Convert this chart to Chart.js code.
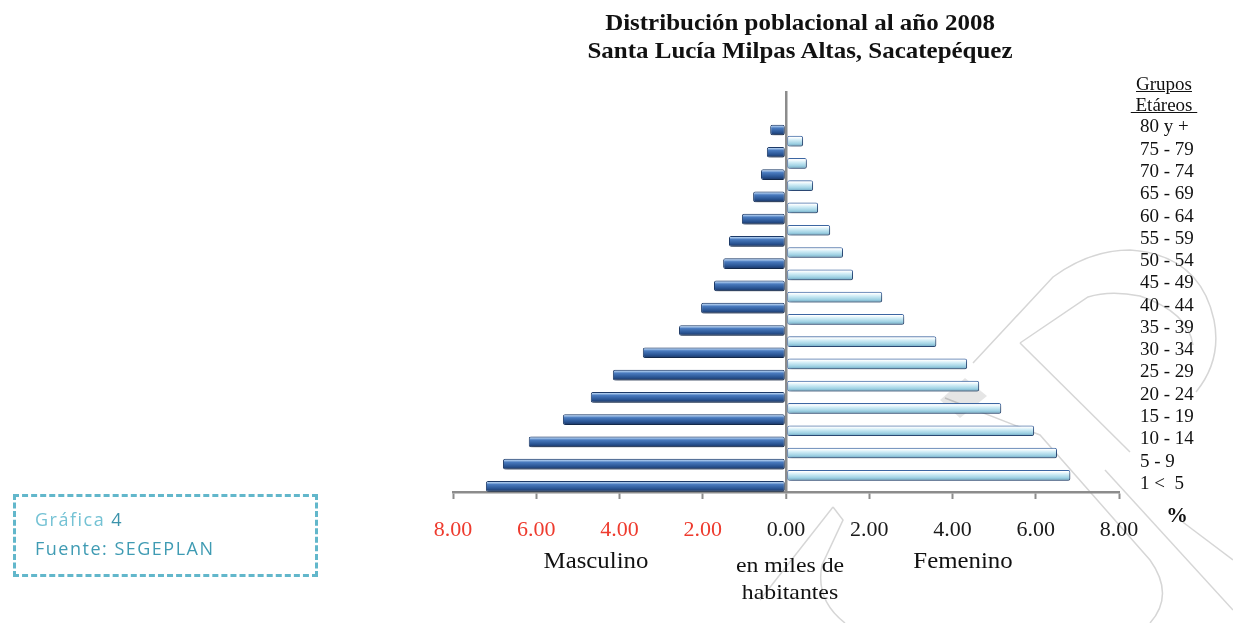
<!DOCTYPE html>
<html>
<head>
<meta charset="utf-8">
<script src="https://cdn.jsdelivr.net/npm/chart.js@4.4.0/dist/chart.umd.min.js"></script>
<style>
  body { margin: 0; background: #fff; }
  #page { position: relative; width: 1233px; height: 623px; overflow: hidden; }
  #wm { position: absolute; left: 0; top: 0; z-index: 0; }
  #wrap { position: absolute; left: 0; top: 0; width: 1233px; height: 623px; z-index: 1; }
  .t { position: absolute; font-family: "Liberation Serif", "Times New Roman", serif; color: #111; white-space: nowrap; z-index: 2; }
  .c { transform: translate(-50%, -50%) scaleX(1.08); }
  #titulo { left: 800px; top: 8px; transform: translateX(-50%) scaleX(1.04); text-align: center; font-weight: bold; font-size: 24px; line-height: 28px; }
  #grupos { left: 1164px; top: 73px; transform: translateX(-50%); text-align: center; font-size: 19px; line-height: 21px; }
  #grupos span { text-decoration: underline; }
  #caja { position: absolute; left: 13px; top: 494px; width: 299px; height: 77px; border: 3px dashed #62b7cb; z-index: 2;
          font-family: "Open Sans", sans-serif; font-size: 18px; letter-spacing: 1.5px; }
</style>
</head>
<body>
<div id="page">
  <svg id="wm" width="1233" height="623" fill="none" stroke="#d6d6d6" stroke-width="1.5">
    <path d="M973 363 L1053 277 Q1090 250 1130 250 Q1200 255 1214 320 Q1222 360 1196 392"/>
    <path d="M1020 343 L1088 297 Q1110 290 1140 296 Q1188 312 1193 345"/>
    <path d="M1020 343 L1130 452"/>
    <path d="M945 398 L1040 435 L1150 560 Q1175 595 1150 623"/>
    <path d="M1105 470 L1233 610"/>
    <path d="M1180 520 L1233 560"/>
    <path d="M833 507 L843 520 L822 565 Q815 600 845 623"/>
    <path d="M833 507 L760 600"/>
    <polygon points="940,400 965,378 987,396 960,418" fill="rgba(0,0,0,0.10)" stroke="none"/>
  </svg>
  <div id="wrap"><canvas id="graphCanvas"></canvas></div>

  <div id="titulo" class="t">Distribución poblacional al año 2008<br>Santa Lucía Milpas Altas, Sacatepéquez</div>
  <div id="grupos" class="t"><span>Grupos</span><br><span>&nbsp;Etáreos&nbsp;</span></div>
  <div class="t c" style="left:1177px; top:515px; font-weight:bold; font-size:20px;">%</div>
  <div class="t c" style="left:596px; top:561px; font-size:23px;">Masculino</div>
  <div class="t c" style="left:963px; top:561px; font-size:23px;">Femenino</div>
  <div class="t c" style="left:790px; top:565px; font-size:22px;">en miles de</div>
  <div class="t c" style="left:790px; top:592px; font-size:22px;">habitantes</div>

  <div id="caja">
    <div style="position:absolute; left:19px; top:10px; color:#74c2d4;">Gráfica <span style="color:#3b93ab;">4</span></div>
    <div style="position:absolute; left:19px; top:39px; color:#3f9bb3;">Fuente: SEGEPLAN</div>
  </div>
</div>

<script>
// grupos etareos (fila superior vacia, como en el original)
var ageGroups = ['', '80 y +', '75 - 79', '70 - 74', '65 - 69', '60 - 64', '55 - 59', '50 - 54', '45 - 49',
    '40 - 44', '35 - 39', '30 - 34', '25 - 29', '20 - 24', '15 - 19', '10 - 14', '5 - 9', '1 <  5'];
var masculino = [null, 0.38, 0.46, 0.60, 0.79, 1.06, 1.37, 1.51, 1.73, 2.04, 2.57, 3.44, 4.16, 4.69, 5.36, 6.18, 6.80, 7.21];
var femenino = [null, null, 0.41, 0.50, 0.65, 0.77, 1.06, 1.37, 1.61, 2.31, 2.84, 3.61, 4.35, 4.64, 5.17, 5.96, 6.51, 6.83];

var BAR_PCT = 0.96;
var CAT_PCT = 1.0;

// gradiente vertical por barra (efecto cilindro)
function barGradient(ctx, stops, fallback) {
    var chart = ctx.chart;
    var ys = chart.scales.y;
    if (ctx.type !== 'data' || !ys || !chart.chartArea) return fallback;
    var row = ys.getPixelForValue(1) - ys.getPixelForValue(0);
    if (!isFinite(row) || row <= 0) return fallback;
    var center = ys.getPixelForValue(ctx.dataIndex) + (ctx.datasetIndex === 0 ? -1 : 1) * row * CAT_PCT / 4;
    var h = row * CAT_PCT / 2 * BAR_PCT / 2;
    var g = chart.ctx.createLinearGradient(0, center - h, 0, center + h);
    stops.forEach(function (s) { g.addColorStop(s[0], s[1]); });
    return g;
}

var maleStops = [[0, '#4272b5'], [0.14, '#a8c7ec'], [0.32, '#4a7bbf'], [0.7, '#2a5594'], [1, '#1a3360']];
var femaleStops = [[0, '#5886c4'], [0.14, '#ffffff'], [0.38, '#d3eef7'], [0.72, '#a0d2e4'], [1, '#6aa4c0']];

var barShadow = {
    id: 'barShadow',
    beforeDatasetsDraw: function (chart) {
        var c = chart.ctx;
        c.save();
        c.shadowColor = 'rgba(0,0,0,0.35)';
        c.shadowOffsetX = 2;
        c.shadowOffsetY = 2;
        c.shadowBlur = 3;
    },
    afterDatasetsDraw: function (chart) {
        chart.ctx.restore();
    }
};

var chartdata = {
    labels: ageGroups,
    datasets: [
        {
            label: 'Femenino',
            data: femenino,
            backgroundColor: function (ctx) { return barGradient(ctx, femaleStops, '#b4e0ee'); },
            borderColor: '#3d67a4',
            borderWidth: 1,
            borderRadius: 2,
            borderSkipped: false,
            barPercentage: BAR_PCT,
            categoryPercentage: CAT_PCT
        },
        {
            label: 'Masculino',
            data: masculino.map(function (v) { return v === null ? null : -v; }),
            backgroundColor: function (ctx) { return barGradient(ctx, maleStops, '#2d5d9b'); },
            borderColor: '#1c3a68',
            borderWidth: 1,
            borderRadius: 2,
            borderSkipped: false,
            barPercentage: BAR_PCT,
            categoryPercentage: CAT_PCT
        }
    ]
};

var graphTarget = document.getElementById('graphCanvas');

var barGraph = new Chart(graphTarget, {
    type: 'bar',
    data: chartdata,
    plugins: [barShadow],
    options: {
        indexAxis: 'y',
        responsive: true,
        maintainAspectRatio: false,
        animation: false,
        layout: { padding: { left: 453, top: 91, right: 0, bottom: 0 } },
        plugins: {
            legend: { display: false },
            tooltip: { enabled: false }
        },
        scales: {
            x: {
                min: -8,
                max: 8,
                z: 1,
                ticks: {
                    stepSize: 2,
                    padding: 18,
                    font: { family: 'Liberation Serif', size: 22 },
                    color: function (ctx) { return ctx.tick && ctx.tick.value < 0 ? '#ee3b2e' : '#1a1a1a'; },
                    callback: function (v) { return Math.abs(v).toFixed(2); }
                },
                grid: {
                    color: function (ctx) { return ctx.tick && ctx.tick.value === 0 ? '#8c8c8c' : 'rgba(0,0,0,0)'; },
                    lineWidth: function (ctx) { return ctx.tick && ctx.tick.value === 0 ? 2.5 : 1; },
                    tickColor: '#8c8c8c',
                    tickLength: 7,
                    tickWidth: 2
                },
                border: { color: '#8c8c8c', width: 2.5 },
                afterFit: function (scale) { scale.height = 131; }
            },
            y: {
                position: 'right',
                ticks: {
                    autoSkip: false,
                    crossAlign: 'near',
                    padding: 21,
                    labelOffset: 3,
                    color: '#111',
                    font: { family: 'Liberation Serif', size: 19 }
                },
                grid: { display: false, drawTicks: false },
                border: { display: false },
                afterFit: function (scale) { scale.width = 114; }
            }
        }
    }
});
</script>
</body>
</html>
